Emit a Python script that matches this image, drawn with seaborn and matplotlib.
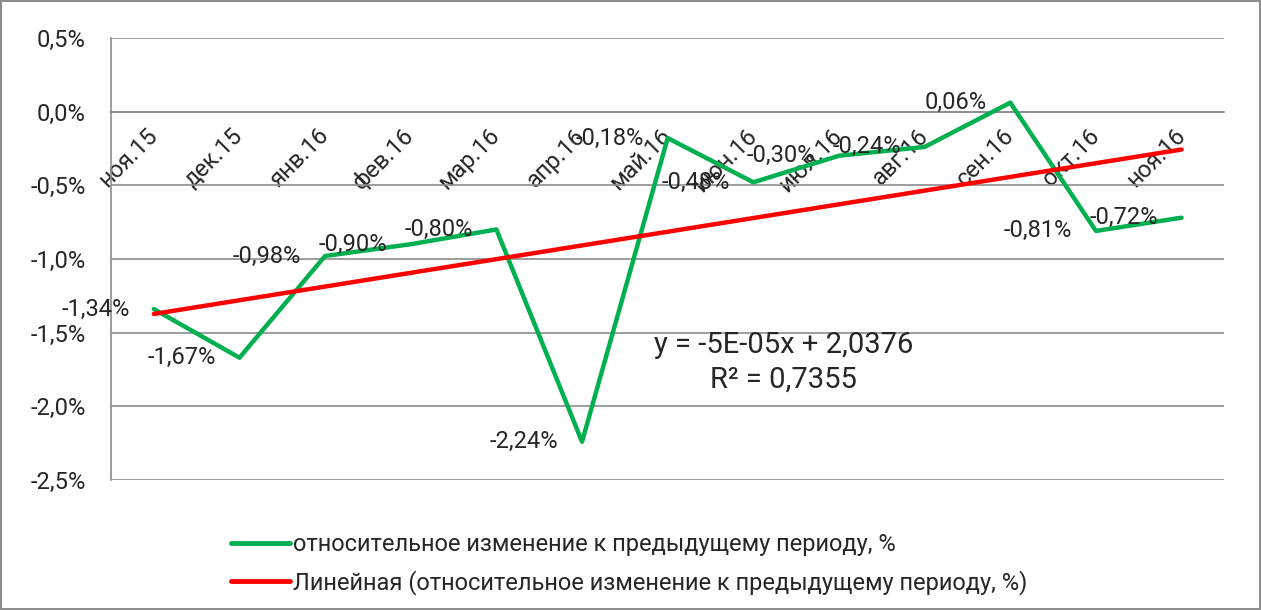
import numpy as np
import pandas as pd
import seaborn as sns
import matplotlib.pyplot as plt
from matplotlib.ticker import FixedLocator, FuncFormatter
from matplotlib.lines import Line2D

sns.set_style('white')
plt.rcParams['font.family'] = ['Roboto', 'Noto Sans', 'DejaVu Sans']

# данные
months = ['ноя.15', 'дек.15', 'янв.16', 'фев.16', 'мар.16', 'апр.16', 'май.16',
          'июн.16', 'июл.16', 'авг.16', 'сен.16', 'окт.16', 'ноя.16']
change = [-1.34, -1.67, -0.98, -0.90, -0.80, -2.24, -0.18,
          -0.48, -0.30, -0.24, 0.06, -0.81, -0.72]
eq_text = 'y = -5E-05x + 2,0376\nR² = 0,7355'
label_main = 'относительное изменение к предыдущему периоду, %'
label_trend = 'Линейная (относительное изменение к предыдущему периоду, %)'

df = pd.DataFrame({'x': np.arange(len(months)), 'val': change})
k, b = np.polyfit(df['x'], df['val'], 1)  # линейный тренд
df['trend'] = k * df['x'] + b

fs = 17

fig = plt.figure(figsize=(12.61, 6.10), dpi=100)
fig.patch.set_edgecolor('#8c8c8c')
fig.patch.set_linewidth(1.5)
ax = fig.add_axes([0.088, 0.213, 0.883, 0.725])

green = '#00B050'
red = '#FF0000'
sns.lineplot(data=df, x='x', y='val', color=green, linewidth=3.2, ax=ax, zorder=3)
sns.lineplot(data=df, x='x', y='trend', color=red, linewidth=3.2, ax=ax, zorder=4)

ax.set_xlim(-0.5, len(months) - 0.5)
ax.set_ylim(-2.5, 0.5)
ax.yaxis.set_major_locator(FixedLocator(np.arange(-2.5, 0.51, 0.5)))
ax.yaxis.set_major_formatter(FuncFormatter(lambda v, p: f'{v:.1f}%'.replace('.', ',')))
ax.grid(axis='y', color='#8c8c8c', linewidth=1.2)
ax.set_axisbelow(True)

for s in ['top', 'right']:
    ax.spines[s].set_visible(False)
ax.spines['left'].set_color('#8c8c8c')
ax.spines['left'].set_linewidth(1.2)
ax.spines['bottom'].set_position(('data', 0))
ax.spines['bottom'].set_color('#8c8c8c')
ax.spines['bottom'].set_linewidth(1.2)

ax.set_xticks(df['x'])
ax.set_xticklabels(months, rotation=45, ha='right', va='center', rotation_mode='anchor', fontsize=fs)
ax.set_xticks(np.arange(-0.5, len(months), 1), minor=True)
ax.tick_params(axis='x', which='major', length=0, pad=15)
ax.tick_params(axis='x', which='minor', length=7, width=1.2, color='#8c8c8c', direction='out')
ax.tick_params(axis='y', which='major', length=7, width=1.2, color='#8c8c8c', labelsize=fs, pad=11)
ax.set_xlabel('')
ax.set_ylabel('')

# подписи данных слева от точек
for xi, v in zip(df['x'], df['val']):
    ax.annotate(f'{v:.2f}%'.replace('.', ','), (xi, v), xytext=(-17, 0),
                textcoords='offset points', ha='right', va='center', fontsize=fs, zorder=5)

ax.text(7.35, -1.7, eq_text, ha='center', va='center', fontsize=21, linespacing=1.28)

handles = [Line2D([], [], color=green, linewidth=3.5), Line2D([], [], color=red, linewidth=3.5)]
fig.legend(handles, [label_main, label_trend], loc='upper left', bbox_to_anchor=(0.176, 0.142),
           frameon=False, fontsize=fs, handlelength=2.5, handletextpad=0.1, labelspacing=0.6,
           borderaxespad=0)

fig.savefig('out.png', dpi=100)
